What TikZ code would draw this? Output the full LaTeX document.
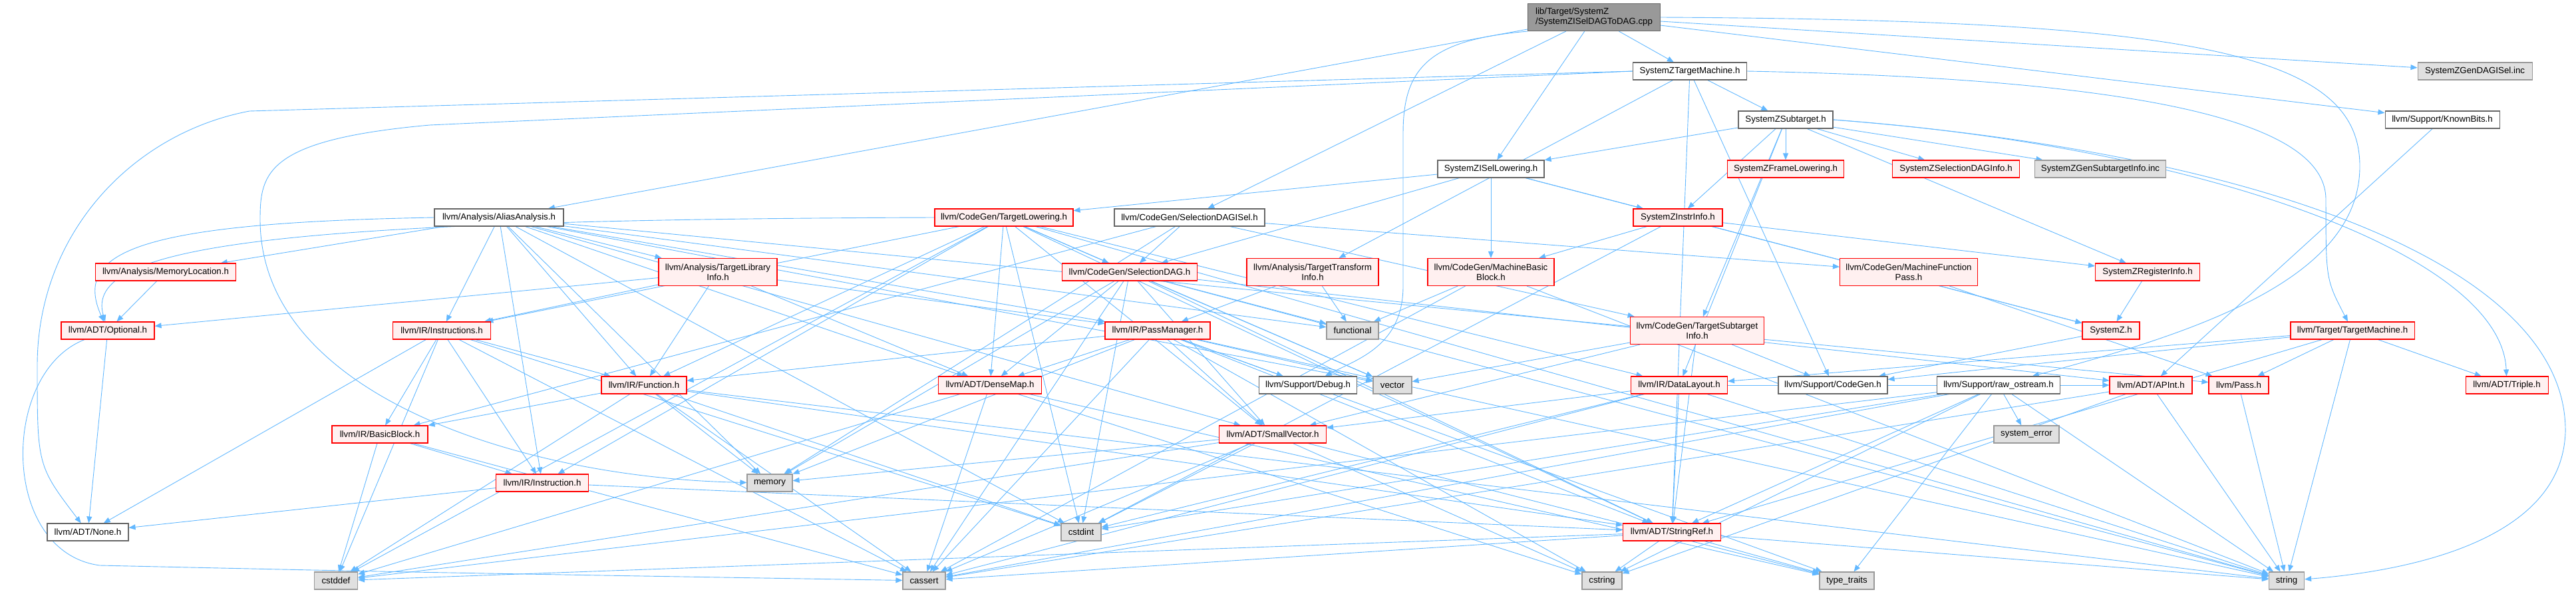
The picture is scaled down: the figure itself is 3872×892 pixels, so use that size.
\documentclass[tikz,border=0pt]{standalone}
\usepackage{fontspec}
\setmainfont{Liberation Sans}
\usepackage{tikz}
\usetikzlibrary{arrows.meta, backgrounds}
\definecolor{EdgeBlue}{RGB}{99,184,255}
\definecolor{BoxGray}{RGB}{102,102,102}
\definecolor{RootFill}{RGB}{153,153,153}
\definecolor{TruncRed}{RGB}{255,0,0}
\definecolor{TruncFill}{RGB}{255,240,240}
\definecolor{SysGray}{RGB}{153,153,153}
\definecolor{SysFill}{RGB}{224,224,224}

\begin{document}
\begin{tikzpicture}[x=1pt, y=-1pt,
    hdr/.style={draw=BoxGray, fill=white, line width=1.1pt,
                minimum height=26pt, inner sep=0pt, align=center,
                font=\fontsize{13.3}{15}\selectfont},
    hdrtrunc/.style={hdr, draw=TruncRed, fill=TruncFill},
    hdrsys/.style={hdr, draw=SysGray, fill=SysFill},
    tall/.style={minimum height=41pt},
    dep/.style={draw=EdgeBlue, line width=0.9pt, -{Triangle[length=10pt, width=8pt]}}
  ]
  \useasboundingbox (0,0) rectangle (3872,892);

  \node[hdr, tall, fill=RootFill, align=left, minimum width=199] (root) at (2396,26) {lib/Target/SystemZ\\/SystemZISelDAGToDAG.cpp};

  \node[hdr, minimum width=171] (stm) at (2540,107) {SystemZTargetMachine.h};
  \node[hdrsys, minimum width=172] (gendag) at (3720,107) {SystemZGenDAGISel.inc};

  \node[hdr, minimum width=142] (sub) at (2684,180) {SystemZSubtarget.h};
  \node[hdr, minimum width=172] (known) at (3671,180) {llvm/Support/KnownBits.h};

  \node[hdr, minimum width=160] (isl) at (2241,254) {SystemZISelLowering.h};
  \node[hdrtrunc, minimum width=175] (framel) at (2684,254) {SystemZFrameLowering.h};
  \node[hdrtrunc, minimum width=191] (daginfo) at (2940,254) {SystemZSelectionDAGInfo.h};
  \node[hdrsys, minimum width=197] (gensub) at (3157,254) {SystemZGenSubtargetInfo.inc};

  \node[hdr, minimum width=194] (aa) at (750,327) {llvm/Analysis/AliasAnalysis.h};
  \node[hdrtrunc, minimum width=208] (tlow) at (1509,327) {llvm/CodeGen/TargetLowering.h};
  \node[hdr, minimum width=226] (dagisel) at (1788,327) {llvm/CodeGen/SelectionDAGISel.h};
  \node[hdrtrunc, minimum width=134] (instr) at (2522,327) {SystemZInstrInfo.h};

  \node[hdrtrunc, minimum width=211] (memloc) at (249,409) {llvm/Analysis/MemoryLocation.h};
  \node[hdrtrunc, tall, minimum width=178] (tli) at (1079,409) {llvm/Analysis/TargetLibrary\\Info.h};
  \node[hdrtrunc, minimum width=203] (sdag) at (1698,409) {llvm/CodeGen/SelectionDAG.h};
  \node[hdrtrunc, tall, minimum width=198] (tti) at (1973,409) {llvm/Analysis/TargetTransform\\Info.h};
  \node[hdrtrunc, tall, minimum width=190] (mbb) at (2241,409) {llvm/CodeGen/MachineBasic\\Block.h};
  \node[hdrtrunc, tall, minimum width=207] (mfpass) at (2869,409) {llvm/CodeGen/MachineFunction\\Pass.h};
  \node[hdrtrunc, minimum width=157] (reginfo) at (3228,409) {SystemZRegisterInfo.h};

  \node[hdrtrunc, minimum width=140] (optional) at (162,497) {llvm/ADT/Optional.h};
  \node[hdrtrunc, minimum width=147] (instrs) at (664,497) {llvm/IR/Instructions.h};
  \node[hdrtrunc, minimum width=158] (passmgr) at (1740,497) {llvm/IR/PassManager.h};
  \node[hdrsys, minimum width=78] (functional) at (2033,497) {functional};
  \node[hdrtrunc, tall, minimum width=201] (tsi) at (2551,497) {llvm/CodeGen/TargetSubtarget\\Info.h};
  \node[hdrtrunc, minimum width=86] (sysz) at (3173,497) {SystemZ.h};
  \node[hdrtrunc, minimum width=186] (tmach) at (3536,497) {llvm/Target/TargetMachine.h};

  \node[hdrtrunc, minimum width=128] (function) at (968,579) {llvm/IR/Function.h};
  \node[hdrtrunc, minimum width=155] (densemap) at (1488,579) {llvm/ADT/DenseMap.h};
  \node[hdr, minimum width=147] (debug) at (1966,579) {llvm/Support/Debug.h};
  \node[hdrsys, minimum width=58] (vector) at (2093,579) {vector};
  \node[hdrtrunc, minimum width=145] (dlayout) at (2524,579) {llvm/IR/DataLayout.h};
  \node[hdr, minimum width=164] (codegen) at (2755,579) {llvm/Support/CodeGen.h};
  \node[hdr, minimum width=185] (rawos) at (3004,579) {llvm/Support/raw\_ostream.h};
  \node[hdrtrunc, minimum width=124] (apint) at (3233,579) {llvm/ADT/APInt.h};
  \node[hdrtrunc, minimum width=90] (pass) at (3365,579) {llvm/Pass.h};
  \node[hdrtrunc, minimum width=124] (triple) at (3768,579) {llvm/ADT/Triple.h};

  \node[hdrtrunc, minimum width=144] (bblock) at (571,653) {llvm/IR/BasicBlock.h};
  \node[hdrtrunc, minimum width=161] (smallvec) at (1913,653) {llvm/ADT/SmallVector.h};
  \node[hdrsys, minimum width=98] (syserr) at (3046,653) {system\_error};

  \node[hdrtrunc, minimum width=139] (instruction) at (815,726) {llvm/IR/Instruction.h};
  \node[hdrsys, minimum width=68] (memory) at (1157,726) {memory};

  \node[hdr, minimum width=122] (none) at (132,800) {llvm/ADT/None.h};
  \node[hdrsys, minimum width=60] (cstdint) at (1625,800) {cstdint};
  \node[hdrtrunc, minimum width=147] (stringref) at (2513,800) {llvm/ADT/StringRef.h};

  \node[hdrsys, minimum width=65] (cstddef) at (505,873) {cstddef};
  \node[hdrsys, minimum width=64] (cassert) at (1389,873) {cassert};
  \node[hdrsys, minimum width=60] (cstring) at (2408,873) {cstring};
  \node[hdrsys, minimum width=82] (typetraits) at (2776,873) {type\_traits};
  \node[hdrsys, minimum width=53] (string) at (3437,873) {string};

  \begin{scope}[on background layer]
    \foreach \a/\b in {
      root/isl, root/stm, root/aa, root/dagisel, root/known, root/gendag,
      stm/sub, stm/tti, stm/codegen, stm/stringref,
      sub/isl, sub/framel, sub/daginfo, sub/gensub, sub/instr, sub/reginfo, sub/tsi, sub/dlayout,
      isl/tlow, isl/sdag, isl/mbb, isl/instr, isl/sysz,
      instr/mbb, instr/reginfo, instr/sysz, instr/cstdint,
      reginfo/sysz, sysz/codegen, known/apint,
      aa/memloc, aa/tli, aa/smallvec, aa/passmgr, aa/pass, aa/cstdint, aa/functional, aa/memory,
      aa/vector, aa/instrs, aa/function, aa/instruction, aa/densemap,
      memloc/optional,
      tli/optional, tli/function, tli/passmgr, tli/densemap, tli/instrs,
      tlow/sdag, tlow/densemap, tlow/smallvec, tlow/stringref, tlow/function, tlow/dlayout,
      tlow/cstdint, tlow/cstddef, tlow/string, tlow/vector, tlow/instruction, tlow/instrs,
      dagisel/sdag, dagisel/mfpass, dagisel/bblock, dagisel/memory, dagisel/tsi,
      sdag/densemap, sdag/smallvec, sdag/stringref, sdag/functional, sdag/vector, sdag/cstdint,
      sdag/cassert, sdag/string, sdag/apint, sdag/memory,
      tti/passmgr, tti/functional,
      mbb/functional, mbb/cassert, mbb/string,
      mfpass/pass,
      passmgr/densemap, passmgr/smallvec, passmgr/stringref, passmgr/function, passmgr/debug,
      passmgr/cassert, passmgr/cstring, passmgr/memory, passmgr/string, passmgr/typetraits, passmgr/vector,
      instrs/bblock, instrs/instruction, instrs/function, instrs/none, instrs/cstddef, instrs/cstdint, instrs/cassert,
      function/bblock, function/memory, function/cassert, function/cstddef, function/cstdint,
      function/string, function/stringref,
      bblock/instruction, bblock/cstddef, bblock/cassert,
      instruction/none, instruction/stringref,
      densemap/cassert, densemap/cstddef, densemap/typetraits, densemap/cstring,
      dlayout/smallvec, dlayout/stringref, dlayout/cassert, dlayout/cstdint, dlayout/string, dlayout/apint,
      tsi/smallvec, tsi/stringref, tsi/codegen, tsi/vector,
      tmach/pass, tmach/string, tmach/stringref, tmach/dlayout, tmach/codegen, tmach/triple,
      rawos/stringref, rawos/syserr, rawos/cassert, rawos/cstddef, rawos/cstdint, rawos/cstring,
      rawos/string, rawos/typetraits,
      apint/cassert, apint/cstring, apint/string,
      pass/string,
      smallvec/cassert, smallvec/cstddef, smallvec/cstdint, smallvec/cstring, smallvec/typetraits, smallvec/memory,
      stringref/cstring, stringref/cstddef, stringref/string, stringref/typetraits, stringref/cassert,
      optional/none}
      \draw[dep] (\a) -- (\b);

    \draw[dep] (root.south west) .. controls (2150,60) and (2109,100) .. (2109,200)
      -- (2109,430) .. controls (2109,520) and (2040,540) .. (debug);
    \draw[dep] (root.east) .. controls (3300,30) and (3547,80) .. (3547,250)
      .. controls (3547,420) and (3300,500) .. (rawos);
    \draw[dep] (stm.east) .. controls (3300,120) and (3496,200) .. (3496,300)
      .. controls (3496,420) .. (tmach);
    \draw[dep] (stm.west) -- (375,167) .. controls (200,200) and (56,350) .. (56,550)
      .. controls (56,700) .. (none);
    \draw[dep] (stm.west) -- (646,188) .. controls (400,210) and (391,260) .. (391,330)
      .. controls (391,600) and (800,720) .. (memory);
    \draw[dep] (sub.east) .. controls (3300,220) and (3760,380) .. (triple);
    \draw[dep] (sub.east) .. controls (3400,230) and (3860,400) .. (3856,650)
      .. controls (3850,820) and (3600,860) .. (string);
    \draw[dep] (aa.west) .. controls (200,335) and (110,380) .. (optional);
    \draw[dep] (tlow.west) .. controls (400,330) and (125,370) .. (optional);
    \draw[dep] (optional) .. controls (0,560) and (0,830) .. (150,850)
      .. controls (600,860) .. (cassert);
  \end{scope}
\end{tikzpicture}
\end{document}
